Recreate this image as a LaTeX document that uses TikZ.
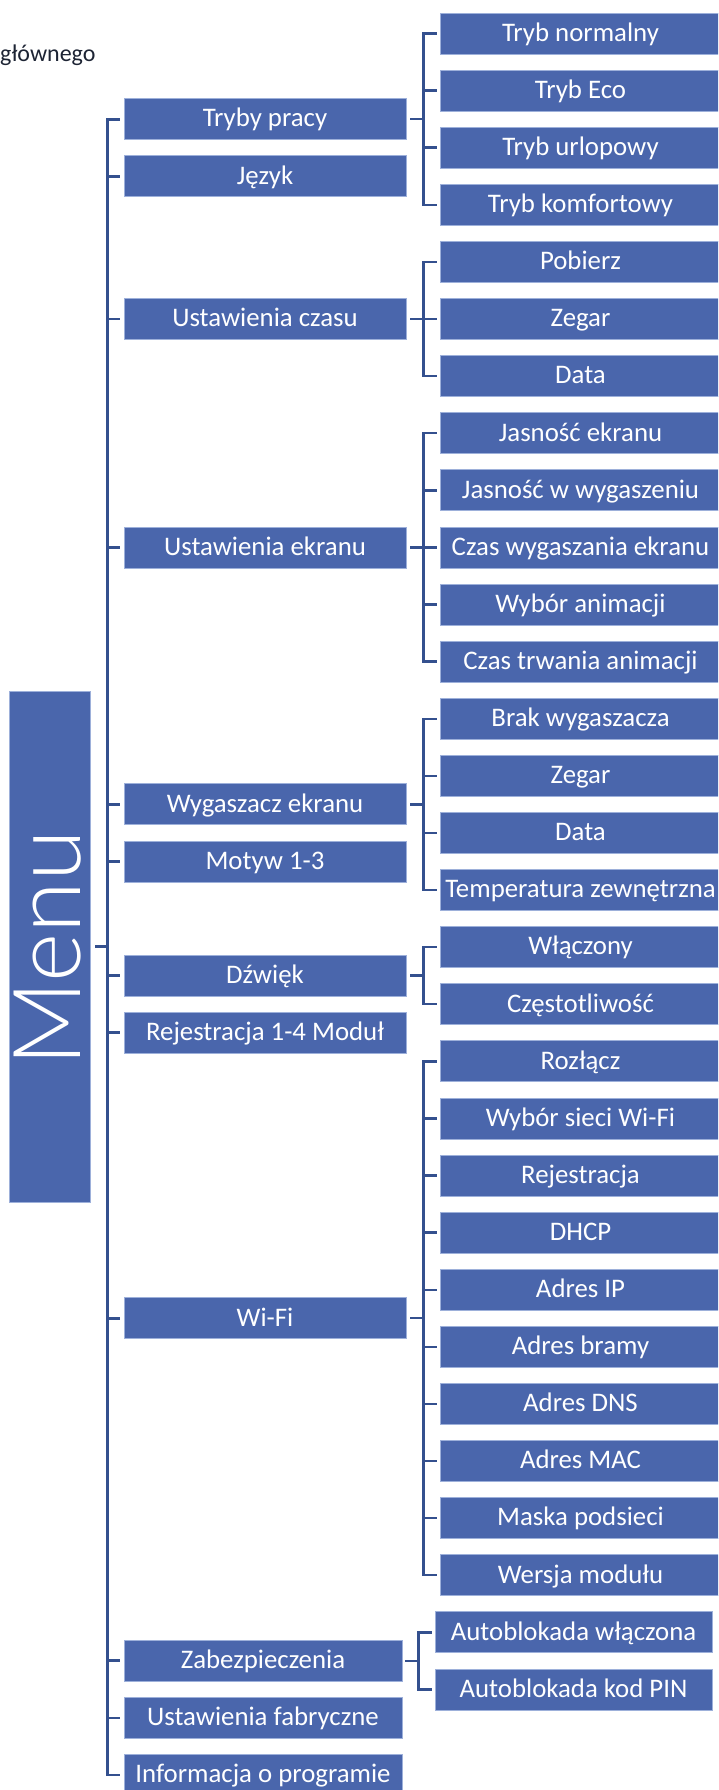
\documentclass[tikz,border=0pt]{standalone}
\usepackage{fontspec}
\setmainfont{Carlito}
\newfontfamily\menufont{Lato Light}
\definecolor{boxfill}{HTML}{4A66AC}
\definecolor{boxedge}{HTML}{9DB0DA}
\definecolor{conncol}{HTML}{34508E}
\definecolor{titlecol}{HTML}{1D2434}
\tikzset{
  lbox/.style={rectangle, fill=boxfill, draw=boxedge, line width=0.8pt,
    minimum width=282pt, minimum height=41pt, inner sep=0pt,
    text=white, font=\fontsize{26.8}{28}\selectfont, text height=19.6pt, text depth=4pt},
  nbox/.style={lbox, minimum width=278pt},
  rbox/.style={lbox, minimum width=281pt},
  abox/.style={lbox, minimum width=277pt},
  menubox/.style={rectangle, fill=boxfill, draw=boxedge, line width=0.8pt,
    minimum width=81pt, minimum height=511pt, inner sep=0pt},
  mainconn/.style={draw=conncol, line width=2.8pt},
  subconn/.style={draw=conncol, line width=2.4pt},
}
\begin{document}
\begin{tikzpicture}[x=1pt,y=-1pt]
\useasboundingbox (0,0) rectangle (718,1790);
\clip (0,0) rectangle (718,1790);
\fill[white] (0,0) rectangle (718,1790);

\node[anchor=base west, text=titlecol, font=\fontsize{24}{26}\selectfont, inner sep=0pt] (title) at (0,62) {głównego};

% Menu
\node[menubox] (menu) at (49.5,946.5) {};
\node[rotate=90, text=white, font=\menufont\fontsize{94}{98}\selectfont, inner sep=0pt] (menulabel) at (47.5,948.5) {Menu};

% Left column
\node[lbox] (l1) at (265,119.15) {Tryby pracy};
\node[lbox] (l2) at (265,176.25) {Język};
\node[lbox] (l3) at (265,319.0) {Ustawienia czasu};
\node[lbox] (l4) at (265,547.4) {Ustawienia ekranu};
\node[lbox] (l5) at (265,804.35) {Wygaszacz ekranu};
\node[lbox] (l6) at (265,861.45) {Motyw 1-3};
\node[lbox] (l7) at (265,975.65) {Dźwięk};
\node[lbox] (l8) at (265,1032.75) {Rejestracja 1-4 Moduł};
\node[lbox] (l9) at (265,1318.25) {Wi-Fi};
\node[nbox] (l10) at (263,1660.85) {Zabezpieczenia};
\node[nbox] (l11) at (263,1717.95) {Ustawienia fabryczne};
\node[nbox] (l12) at (263,1775.05) {Informacja o programie};

% Right column
\node[rbox] (r0) at (580.5,33.5) {Tryb normalny};
\node[rbox] (r1) at (580.5,90.6) {Tryb Eco};
\node[rbox] (r2) at (580.5,147.7) {Tryb urlopowy};
\node[rbox] (r3) at (580.5,204.8) {Tryb komfortowy};
\node[rbox] (r4) at (580.5,261.9) {Pobierz};
\node[rbox] (r5) at (580.5,319.0) {Zegar};
\node[rbox] (r6) at (580.5,376.1) {Data};
\node[rbox] (r7) at (580.5,433.2) {Jasność ekranu};
\node[rbox] (r8) at (580.5,490.3) {Jasność w wygaszeniu};
\node[rbox] (r9) at (580.5,547.4) {Czas wygaszania ekranu};
\node[rbox] (r10) at (580.5,604.5) {Wybór animacji};
\node[rbox] (r11) at (580.5,661.6) {Czas trwania animacji};
\node[rbox] (r12) at (580.5,718.7) {Brak wygaszacza};
\node[rbox] (r13) at (580.5,775.8) {Zegar};
\node[rbox] (r14) at (580.5,832.9) {Data};
\node[rbox] (r15) at (580.5,890.0) {Temperatura zewnętrzna};
\node[rbox] (r16) at (580.5,947.1) {Włączony};
\node[rbox] (r17) at (580.5,1004.2) {Częstotliwość};
\node[rbox] (r18) at (580.5,1061.3) {Rozłącz};
\node[rbox] (r19) at (580.5,1118.4) {Wybór sieci Wi-Fi};
\node[rbox] (r20) at (580.5,1175.5) {Rejestracja};
\node[rbox] (r21) at (580.5,1232.6) {DHCP};
\node[rbox] (r22) at (580.5,1289.7) {Adres IP};
\node[rbox] (r23) at (580.5,1346.8) {Adres bramy};
\node[rbox] (r24) at (580.5,1403.9) {Adres DNS};
\node[rbox] (r25) at (580.5,1461.0) {Adres MAC};
\node[rbox] (r26) at (580.5,1518.1) {Maska podsieci};
\node[rbox] (r27) at (580.5,1575.2) {Wersja modułu};
\node[abox] (r28) at (573.5,1632.3) {Autoblokada włączona};
\node[abox] (r29) at (573.5,1689.4) {Autoblokada kod PIN};

% Main connectors
\foreach \c in {l1,l2,l3,l4,l5,l6,l7,l8,l9,l10,l11,l12}
  \draw[mainconn] ([xshift=5pt]menu.east) -- ++(12pt,0) |- ([xshift=-4pt]\c.west);

% Sub connectors
\foreach \c in {r0,r1,r2,r3}
  \draw[subconn] ([xshift=4pt]l1.east) -- ++(13pt,0) |- ([xshift=-3pt]\c.west);
\foreach \c in {r4,r5,r6}
  \draw[subconn] ([xshift=4pt]l3.east) -- ++(13pt,0) |- ([xshift=-3pt]\c.west);
\foreach \c in {r7,r8,r9,r10,r11}
  \draw[subconn] ([xshift=4pt]l4.east) -- ++(13pt,0) |- ([xshift=-3pt]\c.west);
\foreach \c in {r12,r13,r14,r15}
  \draw[subconn] ([xshift=4pt]l5.east) -- ++(13pt,0) |- ([xshift=-3pt]\c.west);
\foreach \c in {r16,r17}
  \draw[subconn] ([xshift=4pt]l7.east) -- ++(13pt,0) |- ([xshift=-3pt]\c.west);
\foreach \c in {r18,r19,r20,r21,r22,r23,r24,r25,r26,r27}
  \draw[subconn] ([xshift=4pt]l9.east) -- ++(13pt,0) |- ([xshift=-3pt]\c.west);
\foreach \c in {r28,r29}
  \draw[subconn] ([xshift=3pt]l10.east) -- ++(13pt,0) |- ([xshift=-3pt]\c.west);
\end{tikzpicture}
\end{document}
